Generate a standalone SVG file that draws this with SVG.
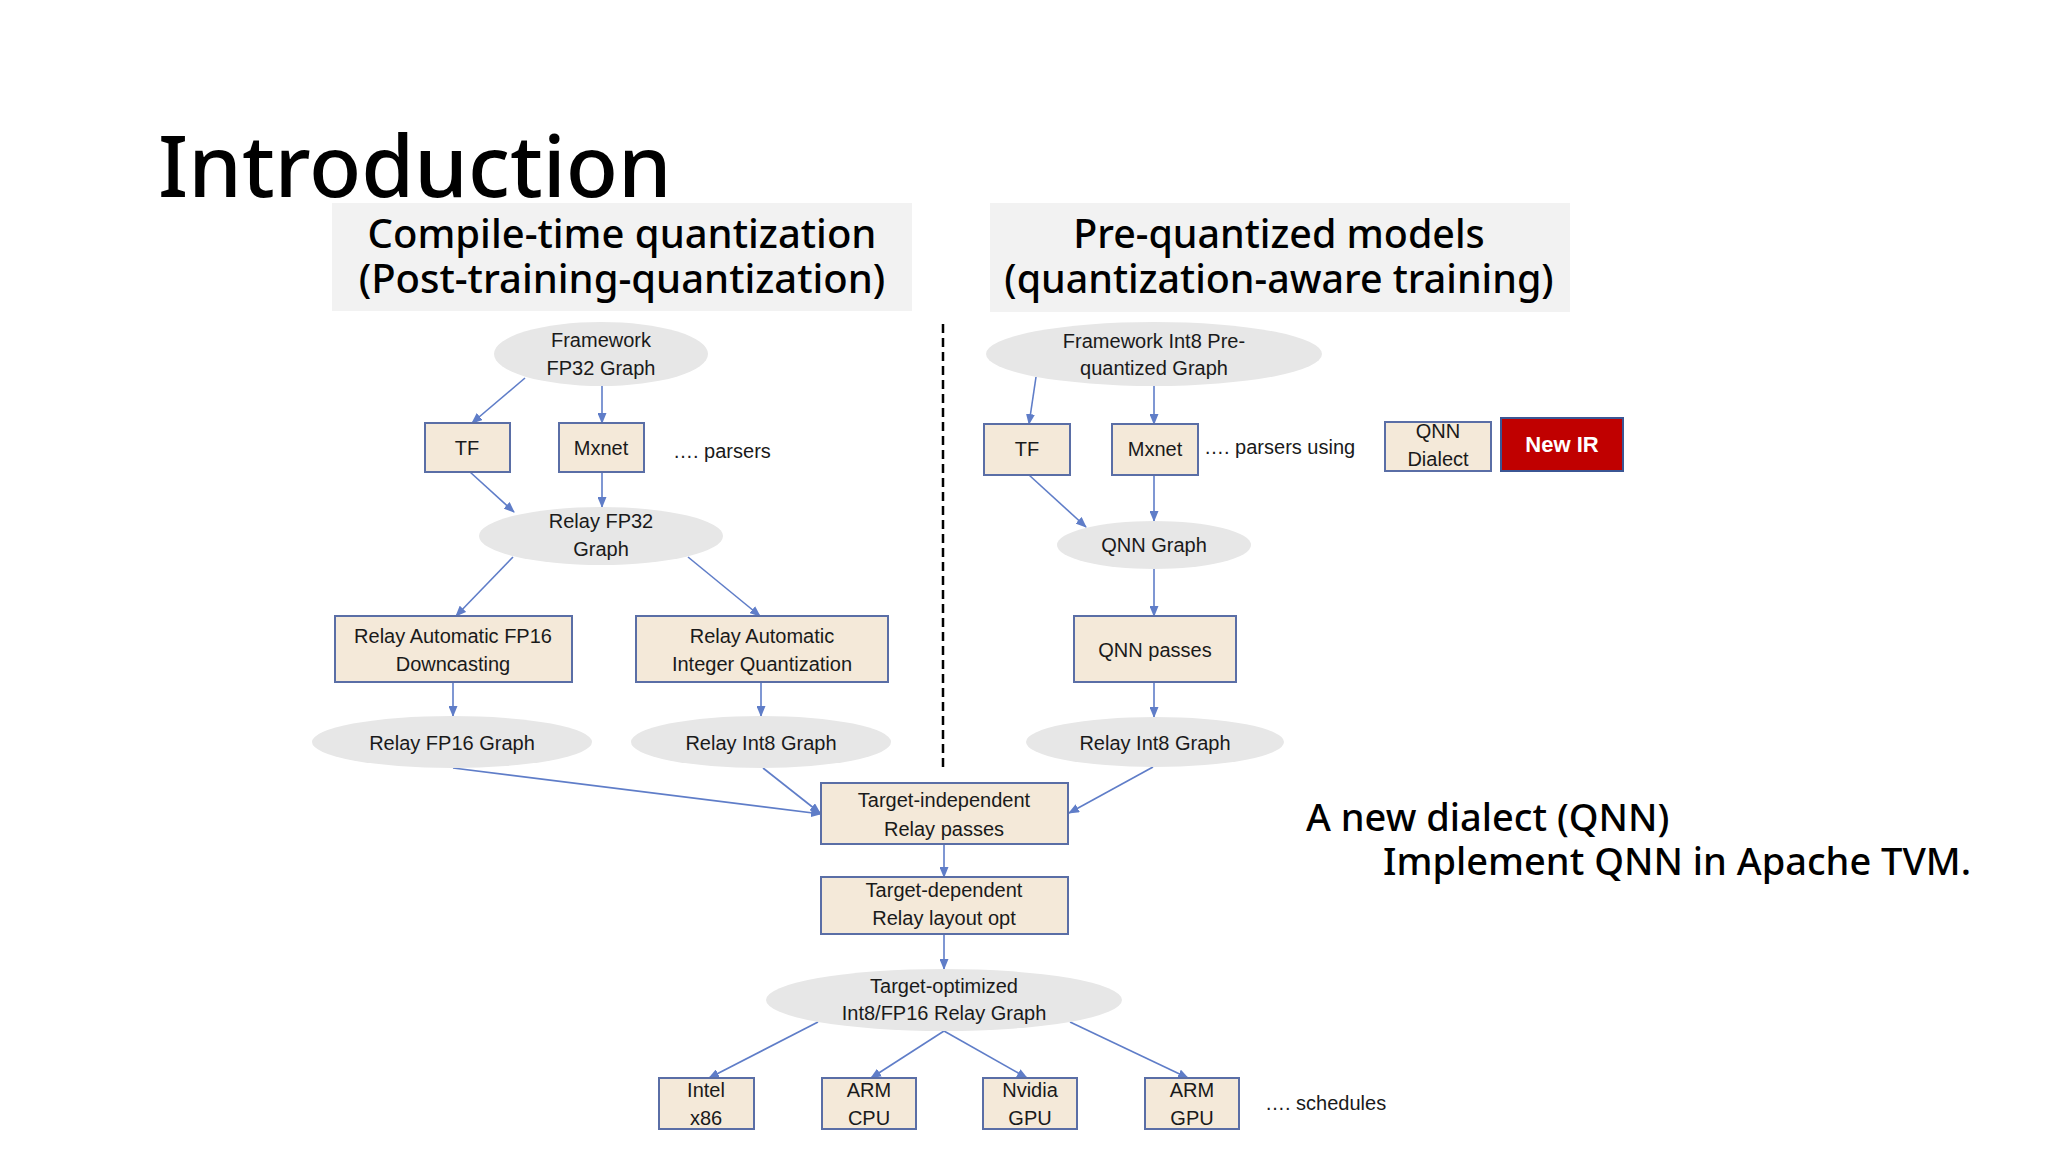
<svg xmlns="http://www.w3.org/2000/svg" width="2048" height="1152" viewBox="0 0 2048 1152">
<style>
.h{font-family:"Noto Sans","Open Sans",sans-serif;fill:#000;font-weight:500}
.t{font-family:"Liberation Sans",Arial,sans-serif;font-size:20px;fill:#1a1a1a;text-anchor:middle}
.n{font-family:"Liberation Sans",Arial,sans-serif;font-size:20px;fill:#1a1a1a}
.box{fill:#f4e9d9;stroke:#5a6ea6;stroke-width:2}
.ell{fill:#e7e7e7}
.c{stroke:#5f7dc8;stroke-width:1.6;fill:none;marker-end:url(#ah)}
</style>
<defs>
<marker id="ah" markerUnits="userSpaceOnUse" markerWidth="11" markerHeight="9" refX="10" refY="4.5" orient="auto">
<path d="M0,0 L11,4.5 L0,9 z" fill="#5f7dc8"/>
</marker>
</defs>
<rect width="2048" height="1152" fill="#fff"/>
<text class="h" x="158" y="197" font-size="85.5" font-weight="600">Introduction</text>
<g id="header-left">
<rect x="332" y="203" width="580" height="108" fill="#f2f2f2"/>
<text class="h" x="622" y="248" font-size="40" text-anchor="middle">Compile-time quantization</text>
<text class="h" x="622" y="293" font-size="40" text-anchor="middle">(Post-training-quantization)</text>
</g>
<g id="header-right">
<rect x="990" y="203" width="580" height="109" fill="#f2f2f2"/>
<text class="h" x="1279" y="248" font-size="39.4" text-anchor="middle">Pre-quantized models</text>
<text class="h" x="1279" y="293" font-size="39.4" text-anchor="middle">(quantization-aware training)</text>
</g>
<line id="divider" x1="943" y1="324" x2="943" y2="770" stroke="#000" stroke-width="2.5" stroke-dasharray="9,5"/>
<g id="connectors">
<line class="c" x1="525" y1="378" x2="472" y2="423"/>
<line class="c" x1="602" y1="386" x2="602" y2="423"/>
<line class="c" x1="470" y1="472" x2="514" y2="512"/>
<line class="c" x1="602" y1="472" x2="602" y2="507"/>
<line class="c" x1="513" y1="557" x2="456" y2="616"/>
<line class="c" x1="688" y1="557" x2="760" y2="616"/>
<line class="c" x1="453" y1="682" x2="453" y2="716"/>
<line class="c" x1="761" y1="682" x2="761" y2="716"/>
<line class="c" x1="453" y1="768" x2="821" y2="814"/>
<line class="c" x1="763" y1="768" x2="820" y2="813"/>
<line class="c" x1="1036" y1="377" x2="1029" y2="424"/>
<line class="c" x1="1154" y1="386" x2="1154" y2="424"/>
<line class="c" x1="1029" y1="475" x2="1086" y2="527"/>
<line class="c" x1="1154" y1="475" x2="1154" y2="521"/>
<line class="c" x1="1154" y1="569" x2="1154" y2="616"/>
<line class="c" x1="1154" y1="682" x2="1154" y2="717"/>
<line class="c" x1="1153" y1="767" x2="1069" y2="813"/>
<line class="c" x1="944" y1="844" x2="944" y2="877"/>
<line class="c" x1="944" y1="934" x2="944" y2="969"/>
<line class="c" x1="818" y1="1022" x2="709" y2="1078"/>
<line class="c" x1="944" y1="1031" x2="871" y2="1078"/>
<line class="c" x1="944" y1="1031" x2="1027" y2="1078"/>
<line class="c" x1="1070" y1="1022" x2="1188" y2="1078"/>
</g>
<g id="fw-fp32"><ellipse class="ell" cx="601" cy="354" rx="107" ry="32"/><text class="t" x="601" y="347">Framework</text><text class="t" x="601" y="375">FP32 Graph</text></g>
<g id="tf-left"><rect class="box" x="425" y="423" width="85" height="49"/><text class="t" x="467" y="455">TF</text></g>
<g id="mxnet-left"><rect class="box" x="559" y="423" width="85" height="49"/><text class="t" x="601" y="455">Mxnet</text></g>
<text class="n" x="673" y="458">…. parsers</text>
<g id="relay-fp32"><ellipse class="ell" cx="601" cy="536" rx="122" ry="29"/><text class="t" x="601" y="528">Relay FP32</text><text class="t" x="601" y="556">Graph</text></g>
<g id="fp16-down"><rect class="box" x="335" y="616" width="237" height="66"/><text class="t" x="453" y="643">Relay Automatic FP16</text><text class="t" x="453" y="671">Downcasting</text></g>
<g id="int-quant"><rect class="box" x="636" y="616" width="252" height="66"/><text class="t" x="762" y="643">Relay Automatic</text><text class="t" x="762" y="671">Integer Quantization</text></g>
<g id="relay-fp16"><ellipse class="ell" cx="452" cy="742" rx="140" ry="26"/><text class="t" x="452" y="750">Relay FP16 Graph</text></g>
<g id="relay-int8-left"><ellipse class="ell" cx="761" cy="742" rx="130" ry="26"/><text class="t" x="761" y="750">Relay Int8 Graph</text></g>
<g id="fw-int8"><ellipse class="ell" cx="1154" cy="354" rx="168" ry="32"/><text class="t" x="1154" y="348">Framework Int8 Pre-</text><text class="t" x="1154" y="375">quantized Graph</text></g>
<g id="tf-right"><rect class="box" x="984" y="424" width="86" height="51"/><text class="t" x="1027" y="456">TF</text></g>
<g id="mxnet-right"><rect class="box" x="1112" y="424" width="86" height="51"/><text class="t" x="1155" y="456">Mxnet</text></g>
<text class="n" x="1204" y="454">…. parsers using</text>
<g id="qnn-dialect"><rect class="box" x="1385" y="422" width="106" height="49"/><text class="t" x="1438" y="438">QNN</text><text class="t" x="1438" y="466">Dialect</text></g>
<g id="new-ir"><rect x="1501" y="418" width="122" height="53" fill="#c00000" stroke="#3b5694" stroke-width="2"/><text class="t" x="1562" y="452" style="fill:#fff;font-weight:700;font-size:22px">New IR</text></g>
<g id="qnn-graph"><ellipse class="ell" cx="1154" cy="545" rx="97" ry="24"/><text class="t" x="1154" y="552">QNN Graph</text></g>
<g id="qnn-passes"><rect class="box" x="1074" y="616" width="162" height="66"/><text class="t" x="1155" y="657">QNN passes</text></g>
<g id="relay-int8-right"><ellipse class="ell" cx="1155" cy="742" rx="129" ry="25"/><text class="t" x="1155" y="750">Relay Int8 Graph</text></g>
<g id="target-indep"><rect class="box" x="821" y="783" width="247" height="61"/><text class="t" x="944" y="807">Target-independent</text><text class="t" x="944" y="836">Relay passes</text></g>
<g id="target-dep"><rect class="box" x="821" y="877" width="247" height="57"/><text class="t" x="944" y="897">Target-dependent</text><text class="t" x="944" y="925">Relay layout opt</text></g>
<g id="target-opt"><ellipse class="ell" cx="944" cy="1000" rx="178" ry="31"/><text class="t" x="944" y="993">Target-optimized</text><text class="t" x="944" y="1020">Int8/FP16 Relay Graph</text></g>
<g id="intel"><rect class="box" x="659" y="1078" width="95" height="51"/><text class="t" x="706" y="1097">Intel</text><text class="t" x="706" y="1125">x86</text></g>
<g id="arm-cpu"><rect class="box" x="822" y="1078" width="94" height="51"/><text class="t" x="869" y="1097">ARM</text><text class="t" x="869" y="1125">CPU</text></g>
<g id="nvidia-gpu"><rect class="box" x="983" y="1078" width="94" height="51"/><text class="t" x="1030" y="1097">Nvidia</text><text class="t" x="1030" y="1125">GPU</text></g>
<g id="arm-gpu"><rect class="box" x="1145" y="1078" width="94" height="51"/><text class="t" x="1192" y="1097">ARM</text><text class="t" x="1192" y="1125">GPU</text></g>
<text class="n" x="1265" y="1110">…. schedules</text>
<text class="h" x="1306" y="831" font-size="38">A new dialect (QNN)</text>
<text class="h" x="1383" y="875" font-size="38">Implement QNN in Apache TVM.</text>
</svg>
